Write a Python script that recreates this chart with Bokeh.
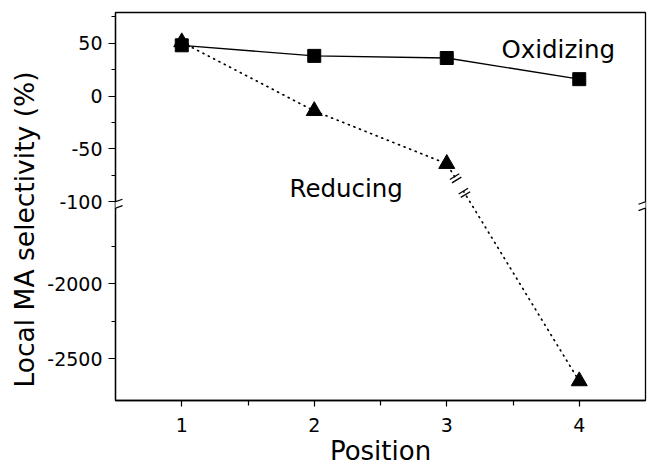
import math
from bokeh.plotting import figure
from bokeh.models import (Range1d, FixedTicker, CustomJSTransform, Arrow, Label,
                          ColumnDataSource, Title)
from bokeh.transform import transform
from bokeh.embed import file_html
from bokeh.resources import INLINE

# ---- data -------------------------------------------------------------
positions = [1, 2, 3, 4]
oxidizing = [48, 38, 36, 16]
reducing = [51, -14, -64, -2650]

y_major = [50, 0, -50, -100, -2000, -2500]
y_minor = [75, 25, -25, -75, -1750, -2250]
x_major = [1, 2, 3, 4]
x_minor = [1.5, 2.5, 3.5]

# ---- broken y axis: values below the break are compressed -------------
BREAK_D = -101.0     # display value where the axis is broken
BREAK_V = -1460.0    # real value at the lower side of the break
K = 0.1415           # compression of the lower segment


def disp(v):
    return float(v) if v >= BREAK_D else BREAK_D + (v - BREAK_V) * K


brk = CustomJSTransform(args=dict(D=BREAK_D, B=BREAK_V, K=K), v_func="""
    const out = new Float64Array(xs.length);
    for (let i = 0; i < xs.length; i++) {
        const v = xs[i];
        out[i] = v >= D ? v : D + (v - B) * K;
    }
    return out;
""")

src = ColumnDataSource(dict(x=positions, ox=oxidizing, red=reducing))

FONT = "DejaVu Sans"
Y_TOP, Y_BOT = 79.0, -287.7
X_LO, X_HI = 0.5, 4.5
FW, FH = 530, 388

p = figure(width=649, height=471, x_range=Range1d(X_LO, X_HI), y_range=Range1d(Y_BOT, Y_TOP),
           output_backend="svg", toolbar_location=None,
           min_border_left=115, min_border_right=4, min_border_top=12, min_border_bottom=71)
p.grid.visible = False
p.outline_line_color = "black"
p.outline_line_width = 1.3
p.outline_line_alpha = 1.0
p.background_fill_color = "white"
p.border_fill_color = "white"

xa = p.xaxis[0]
xa.ticker = FixedTicker(ticks=x_major, minor_ticks=x_minor)
xa.major_tick_out = 6
xa.major_tick_in = 0
xa.minor_tick_out = 5
xa.minor_tick_in = 0
xa.axis_line_width = 1.3
xa.major_tick_line_width = 1.2
xa.minor_tick_line_width = 1.2
xa.major_label_text_font = FONT
xa.major_label_text_font_size = "19px"
xa.major_label_text_color = "black"
xa.major_label_standoff = 11
xa.axis_label = "Position"
xa.axis_label_text_font = FONT
xa.axis_label_text_font_size = "26px"
xa.axis_label_text_font_style = "normal"
xa.axis_label_text_color = "black"
xa.axis_label_standoff = 1

ya = p.yaxis[0]
ya.ticker = FixedTicker(ticks=[disp(v) for v in y_major], minor_ticks=[disp(v) for v in y_minor])
ya.major_label_overrides = {disp(v): str(v) for v in y_major}
ya.major_tick_out = 7
ya.major_tick_in = 0
ya.minor_tick_out = 4
ya.minor_tick_in = 0
ya.axis_line_width = 1.3
ya.major_tick_line_width = 1.2
ya.minor_tick_line_width = 1.2
ya.major_label_text_font = FONT
ya.major_label_text_font_size = "19px"
ya.major_label_text_color = "black"
ya.major_label_standoff = 6

# y axis title as a side title so it can be shifted along the axis
p.add_layout(Title(text="Local MA selectivity (%)", align="left", offset=13,
                   vertical_align="middle", standoff=8, text_font=FONT,
                   text_font_size="26.5px", text_font_style="normal",
                   text_color="black"), "left")

# ---- series ---------------------------------------------------------------
p.line(x="x", y=transform("ox", brk), source=src, line_color="black", line_width=1.3)
p.line(x="x", y=transform("red", brk), source=src, line_color="black", line_width=1.7,
       line_dash="1 5", line_cap="round")

# ---- decorations (axis breaks, break on the dotted curve) ------------------
PX_X = (X_HI - X_LO) / FW
PX_Y = (Y_TOP - Y_BOT) / FH


def seg(x0, y0, x1, y1, color="black", w=1.2):
    p.add_layout(Arrow(end=None, x_start=x0, y_start=y0, x_end=x1, y_end=y1,
                       line_color=color, line_width=w))


# break on the dotted curve between the last two reducing points (pixel space)
x3, y3 = positions[2], disp(reducing[2])
x4, y4 = positions[3], disp(reducing[3])
dxp, dyp = (x4 - x3) / PX_X, (y4 - y3) / PX_Y
L = math.hypot(dxp, dyp)
ux, uy = dxp / L, dyp / L          # along the curve (pixels, y up)
nx, ny = -uy, ux                   # perpendicular


def along(d, n=0.0):
    return (x3 + (ux * d + nx * n) * PX_X, y3 + (uy * d + ny * n) * PX_Y)


a = along(19.0)
b = along(32.0)
seg(a[0], a[1], b[0], b[1], color="white", w=6)
for d in (15.0, 19.0, 32.0, 36.0):
    s0 = along(d, -5.5)
    s1 = along(d, 5.5)
    seg(s0[0], s0[1], s1[0], s1[1], w=1.3)

yc = BREAK_D - 2 * PX_Y
for xe in (X_LO, X_HI):
    seg(xe, yc - 3 * PX_Y, xe, yc + 3 * PX_Y, color="white", w=4)
    for dy in (-3.2, 3.2):
        seg(xe - 7 * PX_X, yc + (dy - 2.5) * PX_Y, xe + 7 * PX_X, yc + (dy + 2.5) * PX_Y)

p.scatter(x="x", y=transform("ox", brk), source=src, marker="square", size=13,
          fill_color="black", line_color="black", level="overlay")
p.scatter(x="x", y=transform("red", brk), source=src, marker="triangle", size=16,
          fill_color="black", line_color="black", level="overlay")

# ---- texts ----------------------------------------------------------------
p.add_layout(Label(x=3.413, y=44.1, text="Oxidizing", text_font=FONT,
                   text_font_size="24.5px", text_color="black", text_baseline="alphabetic"))
p.add_layout(Label(x=1.813, y=-87.3, text="Reducing", text_font=FONT,
                   text_font_size="24.5px", text_color="black", text_baseline="alphabetic"))

open("out.html", "w").write(file_html(p, INLINE))
